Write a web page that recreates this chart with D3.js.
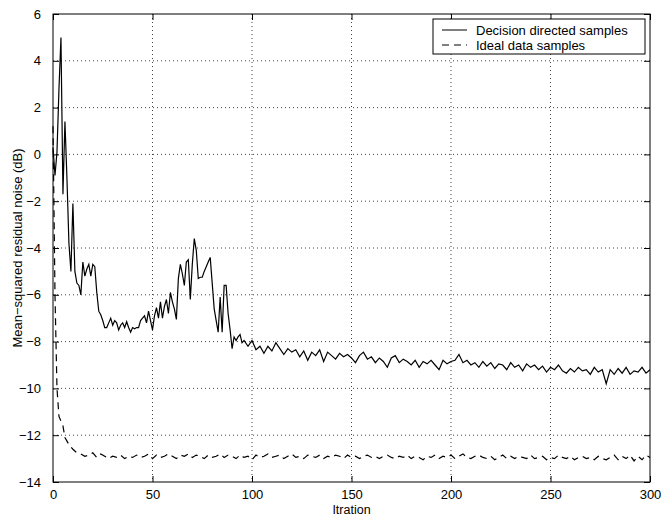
<!DOCTYPE html>
<html>
<head>
<meta charset="utf-8">
<script src="https://cdn.jsdelivr.net/npm/d3@7"></script>
<style>
  body { margin: 0; background: #fff; }
  text { font-family: "Liberation Sans", Arial, sans-serif; }
</style>
</head>
<body>
<svg id="chart" width="662" height="516"></svg>
<script>
// 1: DATA
const xTicks = [0, 50, 100, 150, 200, 250, 300];
const yTicks = [-14, -12, -10, -8, -6, -4, -2, 0, 2, 4, 6];

// Decision directed samples
const ddIter = [
  0, 1, 2, 3, 4, 5, 6, 7, 8, 9, 10, 11, 12, 13, 14, 15, 16, 17, 18, 19,
  20, 21, 22, 23, 24, 25, 26, 27, 28, 29, 30, 31, 32, 33, 34, 35, 36, 37, 38, 39,
  40, 41, 42, 43, 44, 45, 46, 47, 48, 49, 50, 51, 52, 53, 54, 55, 56, 57, 58, 59,
  60, 61, 62, 63, 64, 65, 66, 67, 68, 69, 70, 71, 72, 73, 74, 75, 76, 77, 78, 79,
  80, 81, 82, 83, 84, 85, 86, 87, 88, 89, 90, 91, 92, 93, 94, 95,
  96, 98, 100, 102, 104, 106, 108, 110, 112, 114, 116, 118, 120, 122, 124, 126, 128, 130,
  132, 134, 136, 138, 140, 142, 144, 146, 148, 150, 152, 154, 156, 158, 160, 162, 164, 166,
  168, 170, 172, 174, 176, 178, 180, 182, 184, 186, 188, 190, 192, 194, 196, 198, 200, 202,
  204, 206, 208, 210, 212, 214, 216, 218, 220, 222, 224, 226, 228, 230, 232, 234, 236, 238,
  240, 242, 244, 246, 248, 250, 252, 254, 256, 258, 260, 262, 264, 266, 268, 270, 272, 274,
  276, 278, 280, 282, 284, 286, 288, 290, 292, 294, 296, 298, 300
];
const ddValue = [
  0.3, -0.9, 0.1, 2.8, 5.0, -1.7, 1.4, -1.0, -3.8, -5.0, -2.1, -5.0, -5.5, -5.6, -6.0, -4.6, -5.2, -4.9, -4.7, -5.2,
  -4.7, -4.8, -5.9, -6.7, -6.85, -7.1, -7.4, -7.4, -7.2, -7.0, -7.3, -7.1, -7.2, -7.5, -7.3, -7.2, -7.4, -7.15, -7.4, -7.6,
  -7.4, -7.45, -7.4, -7.4, -7.1, -7.0, -6.9, -7.2, -6.7, -7.1, -7.5, -6.9, -6.55, -7.0, -6.3, -7.0, -6.5, -6.2, -6.8, -5.9,
  -6.3, -6.6, -7.05, -5.3, -4.7, -5.1, -5.6, -4.6, -4.5, -6.2, -4.7, -3.6, -4.1, -5.3, -5.25, -5.25, -5.0, -4.8, -4.6, -4.4,
  -5.5, -6.6, -7.1, -7.6, -6.1, -7.6, -5.6, -5.6, -6.8, -7.5, -8.3, -7.8, -7.95, -7.8, -7.7, -8.05,
  -7.95, -8.2, -7.95, -8.35, -8.2, -8.5, -8.2, -8.4, -8.05, -8.3, -8.55, -8.3, -8.45, -8.35, -8.65, -8.4, -8.8, -8.45,
  -8.6, -8.35, -8.85, -8.45, -8.6, -8.75, -8.5, -8.65, -8.55, -8.7, -8.9, -8.6, -8.45, -8.75, -8.65, -8.9, -8.7, -8.85,
  -9.1, -8.7, -8.6, -8.9, -8.75, -8.85, -9.0, -8.8, -9.1, -8.85, -8.95, -8.8, -9.0, -9.2, -8.8, -8.95, -8.85, -8.8,
  -8.55, -8.9, -8.8, -9.0, -8.9, -9.1, -8.85, -9.05, -8.9, -9.15, -8.95, -9.0, -9.2, -8.9, -9.1, -9.0, -9.25, -8.95,
  -9.1, -9.0, -9.2, -9.05, -9.3, -9.1, -9.2, -9.0, -9.25, -9.35, -9.15, -9.3, -9.1, -9.25, -9.2, -9.4, -9.1, -9.3,
  -9.2, -9.8, -9.2, -9.4, -9.15, -9.35, -9.1, -9.4, -9.25, -9.3, -9.1, -9.35, -9.2
];

// Ideal data samples
const idIter = [
  0, 1, 2, 3, 4, 5, 6, 8, 10, 12, 14, 16, 18, 20, 22, 24, 26, 28, 30, 32,
  34, 36, 38, 40, 42, 44, 46, 48, 50, 52, 54, 56, 58, 60, 62, 64, 66, 68, 70, 72,
  74, 76, 78, 80, 82, 84, 86, 88, 90, 92, 94, 96, 98, 100, 102, 104, 106, 108, 110, 112,
  114, 116, 118, 120, 122, 124, 126, 128, 130, 132, 134, 136, 138, 140, 142, 144, 146, 148, 150, 152,
  154, 156, 158, 160, 162, 164, 166, 168, 170, 172, 174, 176, 178, 180, 182, 184, 186, 188, 190, 192,
  194, 196, 198, 200, 202, 204, 206, 208, 210, 212, 214, 216, 218, 220, 222, 224, 226, 228, 230, 232,
  234, 236, 238, 240, 242, 244, 246, 248, 250, 252, 254, 256, 258, 260, 262, 264, 266, 268, 270, 272,
  274, 276, 278, 280, 282, 284, 286, 288, 290, 292, 294, 296, 298, 300
];
const idValue = [
  1.2, -6.0, -10.0, -11.2, -11.4, -11.6, -12.1, -12.4, -12.6, -12.75, -12.8, -12.9, -12.85, -12.75, -12.95, -12.8, -12.9, -13.0, -12.9, -12.95,
  -12.85, -13.0, -12.9, -12.95, -12.85, -12.95, -12.9, -12.8, -13.0, -12.85, -12.95, -12.9, -12.8, -12.9, -13.0, -12.85, -12.9, -12.8, -12.95, -12.85,
  -12.9, -13.0, -12.85, -12.95, -12.9, -12.8, -12.95, -12.85, -12.9, -13.0, -12.85, -12.95, -12.9, -13.05, -12.85, -12.95, -12.9, -12.8, -12.95, -12.9,
  -12.85, -13.0, -12.9, -12.8, -12.95, -12.9, -13.0, -12.85, -12.9, -12.95, -12.85, -13.0, -12.9, -12.95, -12.85, -12.9, -13.0, -12.85, -12.95, -12.9,
  -13.0, -12.9, -12.85, -12.95, -12.9, -13.0, -12.9, -12.85, -12.95, -13.0, -12.9, -12.95, -12.85, -13.0, -12.9, -12.95, -13.05, -12.9, -12.95, -12.85,
  -13.0, -12.9, -12.95, -12.85, -13.0, -12.9, -12.8, -12.95, -13.0, -12.9, -12.85, -12.95, -13.0, -12.9, -13.05, -12.95, -12.85, -13.0, -12.9, -13.0,
  -12.9, -12.95, -13.0, -12.85, -13.0, -12.95, -12.9, -13.05, -12.95, -13.0, -12.85, -12.95, -13.0, -12.9, -13.05, -12.95, -12.9, -13.0, -12.95, -13.05,
  -12.9, -13.0, -13.05, -12.95, -12.85, -13.05, -12.9, -13.0, -12.85, -13.1, -12.9, -13.05, -12.85, -12.95
];

const seriesNames = ["Decision directed samples", "Ideal data samples"];

// 2: LAYOUT
const margin = { top: 14, right: 12, bottom: 34, left: 53 };
const width = 662 - margin.left - margin.right;
const height = 516 - margin.top - margin.bottom;

const svg = d3.select("#chart")
    .append("g")
    .attr("transform", `translate(${margin.left},${margin.top})`);

// 3: SCALES
const xScale = d3.scaleLinear().domain([0, 300]).range([0, width]);
const yScale = d3.scaleLinear().domain([-14, 6]).range([height, 0]);

const minus = s => String(s).replace("-", "\u2212");

// 4: GRID (dotted)
svg.append("g")
    .selectAll("line")
    .data(xTicks.slice(1, -1))
    .enter()
    .append("line")
    .attr("x1", d => xScale(d)).attr("x2", d => xScale(d))
    .attr("y1", 0).attr("y2", height)
    .attr("stroke", "#444")
    .attr("stroke-width", 1)
    .attr("stroke-dasharray", "1,3");

svg.append("g")
    .selectAll("line")
    .data(yTicks.slice(1, -1))
    .enter()
    .append("line")
    .attr("x1", 0).attr("x2", width)
    .attr("y1", d => yScale(d)).attr("y2", d => yScale(d))
    .attr("stroke", "#444")
    .attr("stroke-width", 1)
    .attr("stroke-dasharray", "1,3");

// 5: LINES
const line = d3.line()
    .x(d => xScale(d[0]))
    .y(d => yScale(d[1]));

svg.append("path")
    .datum(ddIter.map((x, i) => [x, ddValue[i]]))
    .attr("fill", "none")
    .attr("stroke", "#000")
    .attr("stroke-width", 1.2)
    .attr("d", line);

svg.append("path")
    .datum(idIter.map((x, i) => [x, idValue[i]]))
    .attr("fill", "none")
    .attr("stroke", "#000")
    .attr("stroke-width", 1.2)
    .attr("stroke-dasharray", "7,5")
    .attr("d", line);

// 6: AXES (ticks pointing inward, on all four sides)
const tickLen = 6;
svg.append("g")
    .attr("transform", `translate(0,${height})`)
    .call(d3.axisBottom(xScale).tickValues(xTicks).tickSizeInner(-tickLen).tickSizeOuter(0).tickPadding(8))
    .call(g => g.select(".domain").remove());
svg.append("g")
    .call(d3.axisTop(xScale).tickValues(xTicks).tickSizeInner(-tickLen).tickSizeOuter(0).tickFormat(""))
    .call(g => g.select(".domain").remove());
svg.append("g")
    .call(d3.axisLeft(yScale).tickValues(yTicks).tickSizeInner(-tickLen).tickSizeOuter(0).tickPadding(12).tickFormat(minus))
    .call(g => g.select(".domain").remove());
svg.append("g")
    .attr("transform", `translate(${width},0)`)
    .call(d3.axisRight(yScale).tickValues(yTicks).tickSizeInner(-tickLen).tickSizeOuter(0).tickFormat(""))
    .call(g => g.select(".domain").remove());

svg.selectAll(".tick text")
    .attr("fill", "#000")
    .style("font-size", "13px")
    .style("font-family", "'Liberation Sans', Arial, sans-serif");
svg.selectAll(".tick line").attr("stroke", "#000");

svg.append("rect")
    .attr("width", width)
    .attr("height", height)
    .attr("fill", "none")
    .attr("stroke", "#000")
    .attr("stroke-width", 1);

// 7: LABELS
svg.append("text")
    .attr("x", width / 2)
    .attr("y", height + 32)
    .style("text-anchor", "middle")
    .style("font-size", "12.5px")
    .text("Itration");

svg.append("text")
    .attr("transform", "rotate(-90)")
    .attr("x", -height / 2)
    .attr("y", -31)
    .style("text-anchor", "middle")
    .style("font-size", "13px")
    .text("Mean\u2212squared residual noise (dB)");

// 8: LEGEND
const legend = svg.append("g")
    .attr("transform", `translate(${433 - margin.left},${19 - margin.top})`);
legend.append("rect")
    .attr("width", 212)
    .attr("height", 35)
    .attr("fill", "#fff")
    .attr("stroke", "#000")
    .attr("stroke-width", 1);
legend.selectAll(".item")
    .data(seriesNames)
    .enter()
    .append("g")
    .attr("class", "item")
    .attr("transform", (d, i) => `translate(0,${11 + i * 15})`)
    .each(function(d, i) {
        d3.select(this).append("line")
            .attr("x1", 9).attr("x2", 34)
            .attr("stroke", "#000")
            .attr("stroke-width", 1)
            .attr("stroke-dasharray", i === 1 ? "7,5" : null);
        d3.select(this).append("text")
            .attr("x", 43)
            .attr("y", 4.5)
            .style("font-size", "13px")
            .text(d);
    });
</script>
</body>
</html>
